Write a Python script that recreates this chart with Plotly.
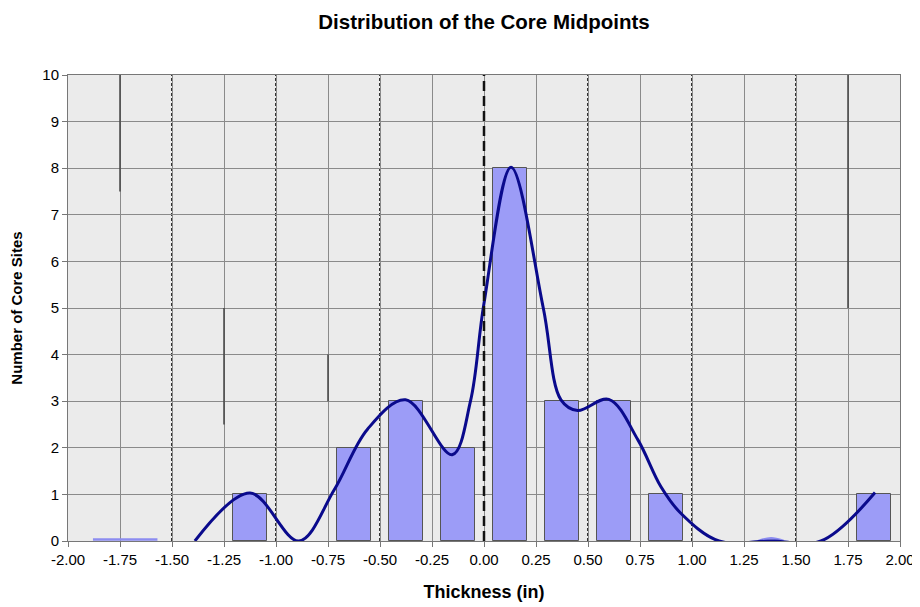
import plotly.graph_objects as go

# ---- data ----
bin_centers = [-1.125, -0.625, -0.375, -0.125, 0.125, 0.375, 0.625, 0.875, 1.875]
bin_counts = [1, 2, 3, 2, 8, 3, 3, 1, 1]

curve_x = [-1.39, -1.125, -0.89, -0.72, -0.56, -0.377,
           -0.153, -0.065, 0.0, 0.13, 0.285, 0.37, 0.45, 0.6, 0.74, 0.85,
           0.945, 1.13, 1.38, 1.62, 1.88]
curve_y = [0.0, 1.03, 0.0, 1.1, 2.4, 3.03,
           1.85, 3.0, 5.1, 8.02, 5.0, 3.03, 2.8, 3.04, 2.17, 1.17,
           0.6, 0.0, 0.0, 0.0, 1.04]

faint_x = [-1.88, -1.57, None, 1.32, 1.38, 1.44]
faint_y = [0.03, 0.03, None, 0.0, 0.06, 0.0]

dotted_x = [-1.5, -1.0, -0.5, 0.5, 1.0, 1.5]
zero_x = [0.0]

seg_x = [-1.75, -1.25, -0.75, 1.75]
seg_y0 = [7.5, 2.5, 3.0, 5.0]
seg_y1 = [10.0, 5.0, 4.0, 10.0]

x_ticks = [-2.0, -1.75, -1.5, -1.25, -1.0, -0.75, -0.5, -0.25, 0.0, 0.25, 0.5,
           0.75, 1.0, 1.25, 1.5, 1.75, 2.0]
x_tick_labels = ["%.2f" % v for v in x_ticks]
y_ticks = list(range(0, 11))

title_text = "Distribution of the Core Midpoints"
x_title = "Thickness (in)"
y_title = "Number of Core Sites"

# ---- figure ----
fig = go.Figure()

fig.add_trace(go.Bar(
    x=bin_centers, y=bin_counts, width=0.168,
    marker=dict(color="#9c9cf7", line=dict(color="#555555", width=1)),
    showlegend=False, hoverinfo="x+y"))

sx, sy = [], []
for x, a, b in zip(seg_x, seg_y0, seg_y1):
    sx += [x, x, None]
    sy += [a, b, None]
fig.add_trace(go.Scatter(x=sx, y=sy, mode="lines",
                         line=dict(color="#444444", width=1.5),
                         showlegend=False, hoverinfo="skip"))

fig.add_trace(go.Scatter(x=faint_x, y=faint_y, mode="lines",
                         line=dict(color="#8c8cf0", width=2.5, shape="spline"),
                         showlegend=False, hoverinfo="skip"))

fig.add_trace(go.Scatter(x=curve_x, y=curve_y, mode="lines",
                         line=dict(color="#0a0a8c", width=3, shape="spline",
                                   smoothing=1.0),
                         showlegend=False))

shapes = []
for x in dotted_x:
    shapes.append(dict(type="line", xref="x", yref="y", x0=x, x1=x, y0=0, y1=10,
                       line=dict(color="#333333", width=2, dash="3px,2px"),
                       layer="below"))
for x in zero_x:
    shapes.append(dict(type="line", xref="x", yref="y", x0=x, x1=x, y0=0, y1=10,
                       line=dict(color="#111111", width=2.5, dash="10px,5px"),
                       layer="above"))

fig.update_layout(
    width=920, height=607,
    margin=dict(l=60, r=28, t=67, b=74, autoexpand=False),
    paper_bgcolor="white",
    plot_bgcolor="#ebebeb",
    font=dict(family="Liberation Sans, Arial, sans-serif", size=15, color="black"),
    title=dict(text="<b>" + title_text + "</b>", x=0.5, xanchor="center",
               xref="paper", yref="container",
               y=0.978, yanchor="middle", font=dict(size=20.5)),
    shapes=shapes,
    bargap=0,
    xaxis=dict(range=[-2, 2], tickvals=x_ticks, ticktext=x_tick_labels,
               automargin=False,
               showgrid=True, gridcolor="#8a8a8a", gridwidth=1,
               zeroline=False, showline=True, linecolor="#777777", mirror=True,
               ticks="outside", ticklen=5, tickcolor="#777777",
               title=dict(text="<b>" + x_title + "</b>", font=dict(size=18),
                          standoff=18),
               tickfont=dict(size=15)),
    yaxis=dict(range=[0, 10], tickvals=y_ticks,
               automargin=False,
               showgrid=True, gridcolor="#8a8a8a", gridwidth=1,
               zeroline=False, showline=True, linecolor="#777777", mirror=True,
               ticks="outside", ticklen=5, tickcolor="#777777",
               title=dict(text="<b>" + y_title + "</b>", font=dict(size=15),
                          standoff=16),
               tickfont=dict(size=15)),
)

fig.write_html("out.html")
